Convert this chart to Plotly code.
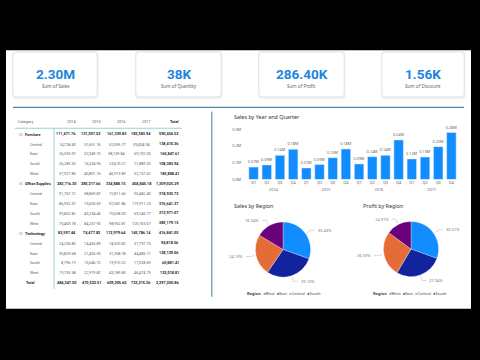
import math
import plotly.graph_objects as go

W, H = 480, 360


def fx(x):
    return x / W


def fy(y):
    return 1 - y / H


# ---------------- data ----------------
kpi_values = ["2.30M", "38K", "286.40K", "1.56K"]
kpi_labels = ["Sum of Sales", "Sum of Quantity", "Sum of Profit", "Sum of Discount"]

years = ["2014", "2015", "2016", "2017"]
quarters = ["Q1", "Q2", "Q3", "Q4"]
quarter_sales = [74000, 87000, 144000, 180000,
                 69000, 89000, 130000, 182000,
                 93000, 136000, 144000, 236000,
                 123000, 134000, 196000, 280000]
y_tick_vals = [0, 100000, 200000, 300000]
y_tick_text = ["0.0M", "0.1M", "0.2M", "0.3M"]

regions = ["West", "East", "Central", "South"]
region_colors = ["#118DFF", "#12239E", "#E66C37", "#6B007B"]
sales_share = [30.43, 29.10, 24.13, 16.34]
profit_share = [30.57, 27.94, 26.59, 14.91]

table_header = ["Category", "2014", "2015", "2016", "2017", "Total"]
row_labels = ["Furniture", "Central", "East", "South", "West",
              "Office Supplies", "Central", "East", "South", "West",
              "Technology", "Central", "East", "South", "West", "Total"]
row_levels = [0, 1, 1, 1, 1, 0, 1, 1, 1, 1, 0, 1, 1, 1, 1, 2]
row_values = [
    ["111,471.76", "131,057.52", "161,339.83", "182,583.94", "590,454.52"],
    ["14,728.49", "31,651.16", "52,595.77", "39,434.94", "138,410.36"],
    ["26,535.97", "32,049.75", "38,159.84", "69,102.05", "165,847.61"],
    ["26,289.35", "16,534.95", "23,670.21", "21,889.33", "108,383.94"],
    ["37,927.85", "40,801.16", "46,913.89", "52,157.62", "185,808.41"],
    ["283,716.30", "285,217.66", "334,888.15", "404,845.18", "1,309,025.29"],
    ["91,767.72", "58,869.87", "72,811.65", "95,482.49", "318,933.72"],
    ["86,952.57", "73,655.69", "92,381.86", "119,911.25", "376,641.37"],
    ["39,852.82", "43,234.45", "70,658.03", "69,245.77", "213,971.07"],
    ["75,403.18", "84,257.90", "98,952.81", "120,765.07", "380,179.15"],
    ["83,597.44", "74,477.82", "112,979.64", "145,786.14", "416,841.05"],
    ["24,236.80", "14,455.89", "18,320.82", "37,797.75", "94,818.56"],
    ["30,829.68", "21,455.50", "31,358.78", "44,485.11", "128,129.06"],
    ["8,796.19", "15,646.72", "19,910.22", "17,028.69", "60,881.41"],
    ["19,735.58", "22,919.82", "43,189.83", "46,474.79", "132,018.81"],
    ["484,247.50", "470,532.51", "609,205.60", "733,215.26", "2,297,200.86"],
]

# ---------------- figure ----------------
FONT = "Noto Sans"
TFONT = "Roboto"
fig = go.Figure()
shapes = []
annotations = []


def rrect(x0, y0, x1, y1, r):
    return (f"M {fx(x0 + r)},{fy(y0)} L {fx(x1 - r)},{fy(y0)} "
            f"Q {fx(x1)},{fy(y0)} {fx(x1)},{fy(y0 + r)} "
            f"L {fx(x1)},{fy(y1 - r)} Q {fx(x1)},{fy(y1)} {fx(x1 - r)},{fy(y1)} "
            f"L {fx(x0 + r)},{fy(y1)} Q {fx(x0)},{fy(y1)} {fx(x0)},{fy(y1 - r)} "
            f"L {fx(x0)},{fy(y0 + r)} Q {fx(x0)},{fy(y0)} {fx(x0 + r)},{fy(y0)} Z")


# white canvas
shapes.append(dict(type="rect", xref="paper", yref="paper", x0=fx(6), x1=fx(471),
                   y0=fy(310), y1=fy(48), fillcolor="white", line=dict(width=0), layer="below"))

# KPI cards
cards = [(13, 97), (136, 221), (259, 344), (382, 464)]
for (x0, x1), val, lab in zip(cards, kpi_values, kpi_labels):
    shapes.append(dict(type="path", xref="paper", yref="paper",
                       path=rrect(x0 - 1, 49, x1 + 1.5, 97, 4),
                       fillcolor="#ececec", line=dict(width=0), layer="below"))
    shapes.append(dict(type="path", xref="paper", yref="paper",
                       path=rrect(x0, 50, x1, 95, 3.5),
                       fillcolor="white", line=dict(color="#e2e2e2", width=0.6), layer="below"))
    cx = (x0 + x1) / 2
    annotations.append(dict(x=fx(cx), y=fy(72), xref="paper", yref="paper", text=val,
                            showarrow=False, xanchor="center", yanchor="middle",
                            font=dict(family="Roboto", size=13.5, color="#1E84DE", weight="bold")))
    annotations.append(dict(x=fx(cx), y=fy(84.5), xref="paper", yref="paper", text=lab,
                            showarrow=False, xanchor="center", yanchor="middle",
                            font=dict(family=FONT, size=4.6, color="#666666")))

# divider lines
shapes.append(dict(type="line", xref="paper", yref="paper", x0=fx(13), x1=fx(464),
                   y0=fy(105.8), y1=fy(105.8), line=dict(color="#4F86A8", width=1.1)))
shapes.append(dict(type="line", xref="paper", yref="paper", x0=fx(211.8), x1=fx(211.8),
                   y0=fy(110), y1=fy(298), line=dict(color="#4F86A8", width=1.1)))

# ---------------- table ----------------
col_right = [78, 103, 128, 153, 180.5]
TF = 3.8
dark = "#252423"
mid = "#605E5C"
header_y = 120
annotations.append(dict(x=fx(16), y=fy(header_y), xref="paper", yref="paper", text=table_header[0],
                        showarrow=False, xanchor="left", yanchor="middle",
                        font=dict(family=TFONT, size=TF, color=mid)))
for j, h in enumerate(table_header[1:]):
    bold = (h == "Total")
    annotations.append(dict(x=fx(col_right[j]), y=fy(header_y), xref="paper", yref="paper",
                            text=f"<b>{h}</b>" if bold else h,
                            showarrow=False, xanchor="right", yanchor="middle",
                            font=dict(family=TFONT, size=TF, color=dark if bold else mid)))
shapes.append(dict(type="line", xref="paper", yref="paper", x0=fx(15), x1=fx(182),
                   y0=fy(127), y1=fy(127), line=dict(color="#8FCBD3", width=0.9)))
shapes.append(dict(type="line", xref="paper", yref="paper", x0=fx(54), x1=fx(54),
                   y0=fy(127), y1=fy(290), line=dict(color="#8FCBD3", width=0.9)))

for i, (lab, lvl, vals) in enumerate(zip(row_labels, row_levels, row_values)):
    yy = 133 + i * 10.05
    if lvl == 0:
        annotations.append(dict(x=fx(16.5), y=fy(yy), xref="paper", yref="paper", text="⊟",
                                showarrow=False, xanchor="left", yanchor="middle",
                                font=dict(family="DejaVu Sans", size=4.3, color="#888888")))
        lx, txt = 22.5, f"<b>{lab}</b>"
    elif lvl == 1:
        lx, txt = 28, lab
    else:
        lx, txt = 23.5, f"<b>{lab}</b>"
    annotations.append(dict(x=fx(lx), y=fy(yy), xref="paper", yref="paper", text=txt,
                            showarrow=False, xanchor="left", yanchor="middle",
                            font=dict(family=TFONT, size=TF, color=dark if lvl != 1 else mid)))
    for j, v in enumerate(vals):
        bold = (lvl != 1) or (j == 4)
        annotations.append(dict(x=fx(col_right[j]), y=fy(yy), xref="paper", yref="paper",
                                text=f"<b>{v}</b>" if bold else v,
                                showarrow=False, xanchor="right", yanchor="middle",
                                font=dict(family=TFONT, size=TF, color=dark if bold else mid)))

# ---------------- bar chart ----------------
xs_year = [y for y in years for _ in quarters]
xs_q = [q for _ in years for q in quarters]
fig.add_trace(go.Bar(
    x=[xs_year, xs_q], y=quarter_sales,
    marker=dict(color="#118DFF"),
    text=[f"{v / 1e6:.2f}M" for v in quarter_sales],
    textposition="outside", constraintext="none", cliponaxis=False,
    textfont=dict(family=FONT, size=3.8, color="#666666"),
    hoverinfo="skip", xaxis="x", yaxis="y",
))
annotations.append(dict(x=fx(231.5), y=fy(115.5), xref="paper", yref="paper",
                        text="Sales by Year and Quarter", showarrow=False,
                        xanchor="left", yanchor="middle",
                        font=dict(family=FONT, size=5.4, color="#333333")))

# ---------------- pies ----------------
R = 28
pies = [
    (sales_share, 283, 250, "Sales by Region", 231.5, 245),
    (profit_share, 411, 249.5, "Profit by Region", 360.5, 371),
]
for vals, cx, cy, title, tx, lgx in pies:
    fig.add_trace(go.Pie(
        values=vals, labels=regions, sort=False, direction="clockwise", rotation=0,
        marker=dict(colors=region_colors, line=dict(color="white", width=0.3)),
        textinfo="none", hoverinfo="skip", showlegend=False,
        domain=dict(x=[fx(cx - R), fx(cx + R)], y=[fy(cy + R), fy(cy - R)]),
    ))
    annotations.append(dict(x=fx(tx), y=fy(206), xref="paper", yref="paper", text=title,
                            showarrow=False, xanchor="left", yanchor="middle",
                            font=dict(family=FONT, size=5.4, color="#333333")))
    total = sum(vals)
    cum = 0
    for v in vals:
        frac = (cum + v / 2) / total
        cum += v
        ang = math.radians(90 - 360 * frac)
        ca, sa = math.cos(ang), math.sin(ang)
        p0 = (cx + (R + 1) * ca, cy - (R + 1) * sa)
        p1 = (cx + (R + 6) * ca, cy - (R + 6) * sa)
        side = 1 if ca >= 0 else -1
        p2 = (p1[0] + side * 4, p1[1])
        shapes.append(dict(type="path", xref="paper", yref="paper",
                           path=f"M {fx(p0[0])},{fy(p0[1])} L {fx(p1[0])},{fy(p1[1])} L {fx(p2[0])},{fy(p2[1])}",
                           line=dict(color="#b0b0b0", width=0.5)))
        annotations.append(dict(x=fx(p2[0] + side * 1), y=fy(p2[1]), xref="paper", yref="paper",
                                text=f"{v:.2f}%", showarrow=False,
                                xanchor="left" if side > 0 else "right", yanchor="middle",
                                font=dict(family=FONT, size=4.0, color="#777777")))
    legend_txt = "<b>Region</b>  " + "  ".join(
        f"<span style='color:{c}'>●</span>{r}" for r, c in zip(regions, region_colors))
    annotations.append(dict(x=fx(lgx), y=fy(295), xref="paper", yref="paper", text=legend_txt,
                            showarrow=False, xanchor="left", yanchor="middle",
                            font=dict(family=FONT, size=4.0, color="#444444")))

fig.update_layout(
    width=W, height=H, margin=dict(l=0, r=0, t=0, b=0),
    paper_bgcolor="black", plot_bgcolor="rgba(0,0,0,0)",
    showlegend=False, bargap=0.28,
    xaxis=dict(domain=[fx(247), fx(458)], type="multicategory", showdividers=False,
               ticks="", showline=False, showgrid=False, zeroline=False,
               tickfont=dict(family=FONT, size=3.8, color="#666666")),
    yaxis=dict(domain=[fy(179), fy(128)], range=[0, 300000], tickvals=y_tick_vals,
               ticktext=y_tick_text, showgrid=False, zeroline=False, showline=False, ticks="",
               ticklabelstandoff=5,
               tickfont=dict(family=FONT, size=3.8, color="#666666")),
    shapes=shapes, annotations=annotations,
)

fig.write_html(
    "out.html",
    config={"displayModeBar": False},
    post_script="document.body.style.margin='0';document.body.style.padding='0';"
                "document.body.style.background='black';",
)
